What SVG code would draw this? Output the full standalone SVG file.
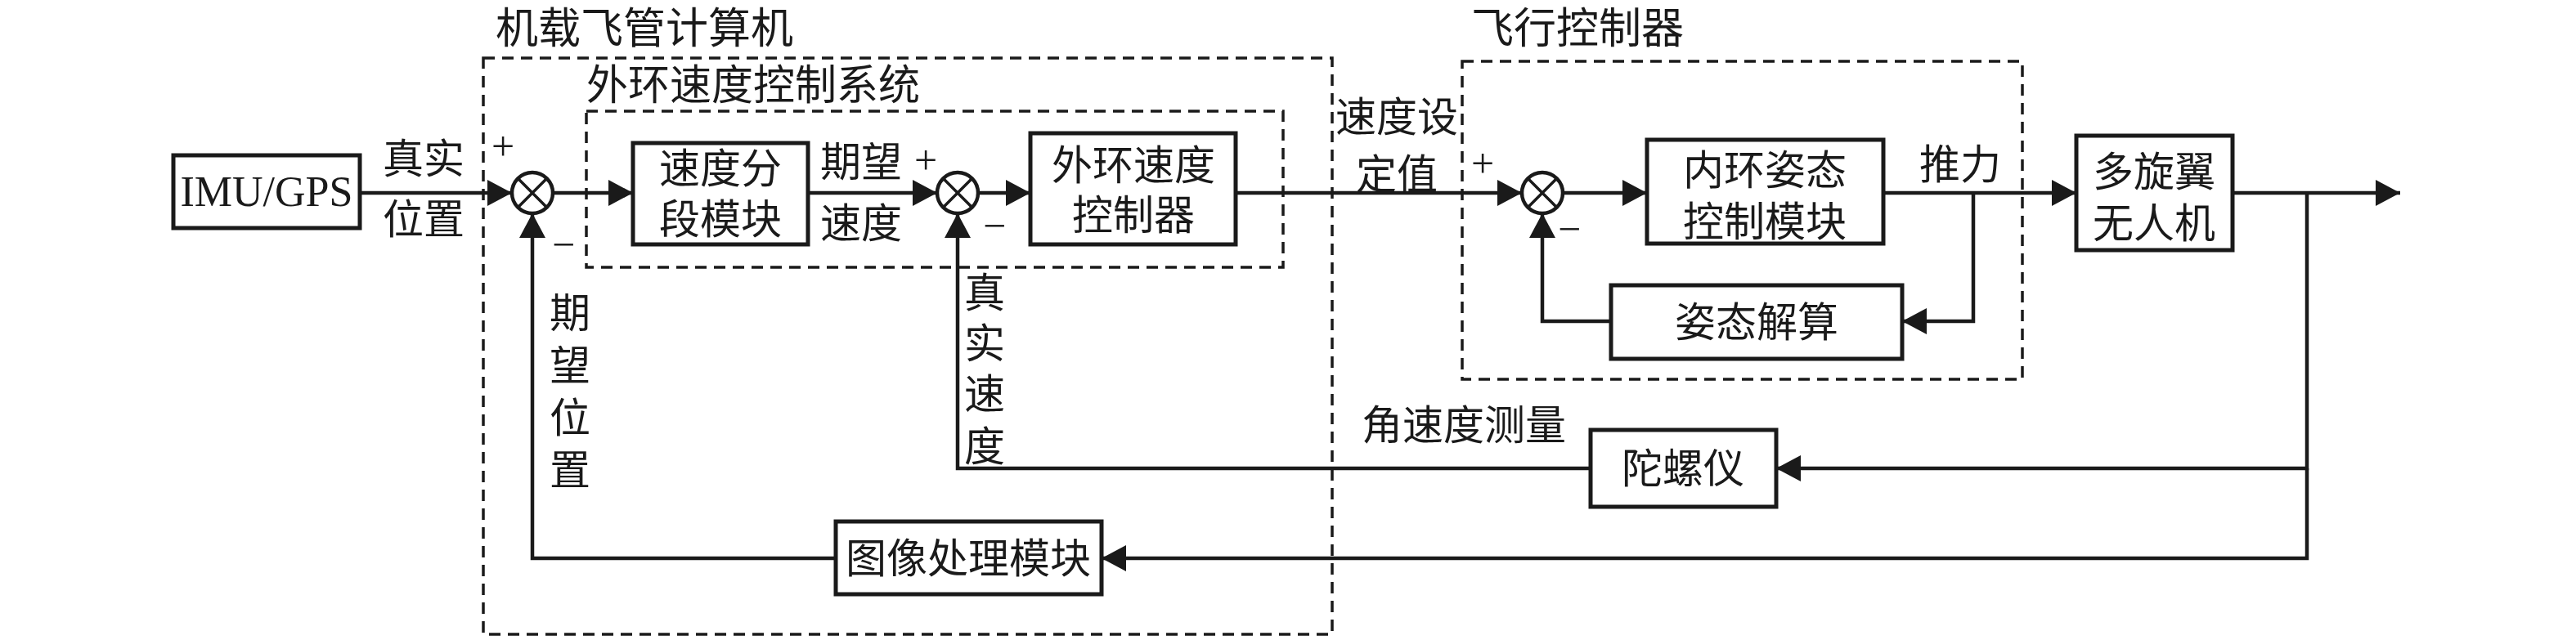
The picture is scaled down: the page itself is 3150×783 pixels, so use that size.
<svg xmlns="http://www.w3.org/2000/svg" width="3150" height="783" viewBox="0 0 3150 783">
<style>
  .bg{fill:#ffffff}
  .box{fill:#ffffff;stroke:#1a1a1a;stroke-width:5}
  .dash{fill:none;stroke:#1a1a1a;stroke-width:3.5;stroke-dasharray:14 9}
  .ln{fill:none;stroke:#1a1a1a;stroke-width:4.5}
  .sum{fill:#ffffff;stroke:#1a1a1a;stroke-width:4.5}
  .t{font-family:"Liberation Serif","Noto Sans CJK SC",serif;font-size:50px;fill:#1a1a1a;text-anchor:middle}
  .ts{font-family:"Liberation Serif","Noto Sans CJK SC",serif;font-size:52px;fill:#1a1a1a;text-anchor:start}
</style>
<defs>
  <marker id="arr" viewBox="0 0 30 32" refX="30" refY="16" markerWidth="30" markerHeight="32" markerUnits="userSpaceOnUse" orient="auto">
    <path d="M0,0 L30,16 L0,32 z" fill="#1a1a1a"/>
  </marker>
</defs>
<rect class="bg" x="0" y="0" width="3150" height="783"/>

<g id="frame-onboard">
  <rect class="dash" x="591" y="71" width="1038" height="705"/>
  <text class="ts" x="606" y="53">机载飞管计算机</text>
</g>
<g id="frame-outer-loop">
  <rect class="dash" x="717" y="136" width="852" height="191"/>
  <text class="ts" x="717" y="122" style="font-size:51px">外环速度控制系统</text>
</g>
<g id="frame-flight-controller">
  <rect class="dash" x="1788" y="75" width="685" height="389"/>
  <text class="ts" x="1799" y="53">飞行控制器</text>
</g>

<g id="connectors">
  <line class="ln" x1="440" y1="236" x2="626" y2="236" marker-end="url(#arr)"/>
  <line class="ln" x1="676" y1="236" x2="774" y2="236" marker-end="url(#arr)"/>
  <line class="ln" x1="988" y1="236" x2="1146" y2="236" marker-end="url(#arr)"/>
  <line class="ln" x1="1196" y1="236" x2="1260" y2="236" marker-end="url(#arr)"/>
  <line class="ln" x1="1511" y1="236" x2="1861" y2="236" marker-end="url(#arr)"/>
  <line class="ln" x1="1911" y1="236" x2="2014" y2="236" marker-end="url(#arr)"/>
  <line class="ln" x1="2303" y1="236" x2="2539" y2="236" marker-end="url(#arr)"/>
  <line class="ln" x1="2730" y1="236" x2="2935" y2="236" marker-end="url(#arr)"/>
  <polyline class="ln" points="2413,236 2413,393 2326,393" marker-end="url(#arr)"/>
  <polyline class="ln" points="1970,393 1886,393 1886,261" marker-end="url(#arr)"/>
  <polyline class="ln" points="2821,236 2821,573 2172,573" marker-end="url(#arr)"/>
  <polyline class="ln" points="2821,573 2821,683 1347,683" marker-end="url(#arr)"/>
  <polyline class="ln" points="1945,573 1171,573 1171,261" marker-end="url(#arr)"/>
  <polyline class="ln" points="1022,683 651,683 651,261" marker-end="url(#arr)"/>
</g>

<g id="imu-gps">
  <rect class="box" x="212" y="190" width="228" height="89"/>
  <text class="t" x="326" y="252" style="font-size:52px">IMU/GPS</text>
</g>

<g id="sum1">
  <circle class="sum" cx="651" cy="236" r="25"/>
  <path class="ln" d="M633.3,218.3 L668.7,253.7 M668.7,218.3 L633.3,253.7" style="stroke-width:3.5"/>
</g>
<g id="sum2">
  <circle class="sum" cx="1171" cy="236" r="25"/>
  <path class="ln" d="M1153.3,218.3 L1188.7,253.7 M1188.7,218.3 L1153.3,253.7" style="stroke-width:3.5"/>
</g>
<g id="sum3">
  <circle class="sum" cx="1886" cy="236" r="25"/>
  <path class="ln" d="M1868.3,218.3 L1903.7,253.7 M1903.7,218.3 L1868.3,253.7" style="stroke-width:3.5"/>
</g>

<g id="speed-segment">
  <rect class="box" x="774" y="175" width="214" height="124"/>
  <text class="t" x="881" y="224">速度分</text>
  <text class="t" x="881" y="286">段模块</text>
</g>
<g id="outer-speed-controller">
  <rect class="box" x="1260" y="163" width="251" height="136"/>
  <text class="t" x="1386" y="220">外环速度</text>
  <text class="t" x="1386" y="281">控制器</text>
</g>
<g id="inner-attitude">
  <rect class="box" x="2014" y="171" width="289" height="127"/>
  <text class="t" x="2158" y="226">内环姿态</text>
  <text class="t" x="2158" y="289">控制模块</text>
</g>
<g id="attitude-solve">
  <rect class="box" x="1970" y="349" width="356" height="90"/>
  <text class="t" x="2148" y="412">姿态解算</text>
</g>
<g id="multirotor">
  <rect class="box" x="2539" y="166" width="191" height="140"/>
  <text class="t" x="2634" y="228">多旋翼</text>
  <text class="t" x="2634" y="291">无人机</text>
</g>
<g id="gyro">
  <rect class="box" x="1945" y="526" width="227" height="94"/>
  <text class="t" x="2058" y="591">陀螺仪</text>
</g>
<g id="image-proc">
  <rect class="box" x="1022" y="638" width="325" height="89"/>
  <text class="t" x="1184" y="701">图像处理模块</text>
</g>

<g id="labels">
  <text class="t" x="518" y="212">真实</text>
  <text class="t" x="518" y="286">位置</text>
  <text class="t" x="615" y="196">+</text>
  <text class="t" x="689" y="316">−</text>
  <text class="t" x="1053" y="216">期望</text>
  <text class="t" x="1053" y="291">速度</text>
  <text class="t" x="1132" y="213">+</text>
  <text class="t" x="1216" y="293">−</text>
  <text class="t" x="1708" y="161">速度设</text>
  <text class="t" x="1708" y="231">定值</text>
  <text class="t" x="1813" y="217">+</text>
  <text class="t" x="1919" y="297">−</text>
  <text class="t" x="2397" y="219">推力</text>
  <text class="t" x="1790" y="538">角速度测量</text>
  <text class="t" x="697" y="401">期</text>
  <text class="t" x="697" y="465">望</text>
  <text class="t" x="697" y="529">位</text>
  <text class="t" x="697" y="593">置</text>
  <text class="t" x="1204" y="376">真</text>
  <text class="t" x="1204" y="438">实</text>
  <text class="t" x="1204" y="500">速</text>
  <text class="t" x="1204" y="564">度</text>
</g>
</svg>
